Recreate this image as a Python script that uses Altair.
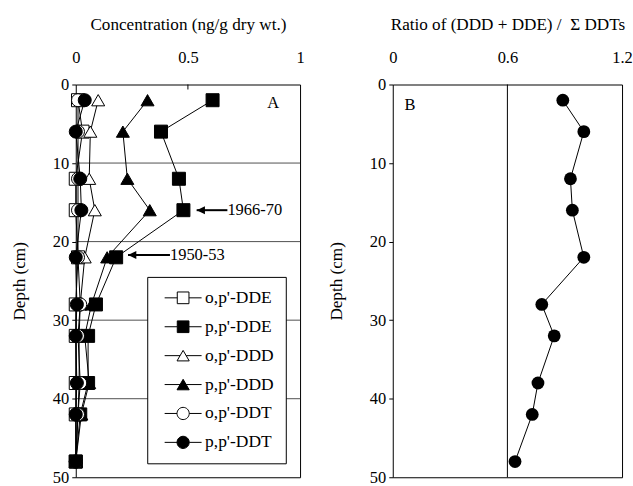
import altair as alt
import pandas as pd

# ---------------- data ----------------
depths = [2, 6, 12, 16, 22, 28, 32, 38, 42, 48]
series_names = ["o,p'-DDE", "p,p'-DDE", "o,p'-DDD", "p,p'-DDD", "o,p'-DDT", "p,p'-DDT"]
op_dde = [0.01, 0.03, 0.0, 0.0, 0.01, 0.0, 0.0, 0.0, 0.0, 0.0]
pp_dde = [0.61, 0.38, 0.46, 0.48, 0.18, 0.09, 0.055, 0.055, 0.02, 0.0]
op_ddd = [0.10, 0.065, 0.06, 0.085, 0.04, 0.02, 0.015, 0.015, 0.01, 0.0]
pp_ddd = [0.32, 0.21, 0.23, 0.33, 0.14, 0.07, 0.04, 0.06, 0.025, 0.0]
op_ddt = [0.01, 0.01, 0.01, 0.01, 0.01, 0.02, 0.01, 0.02, 0.01, 0.0]
pp_ddt = [0.04, 0.0, 0.02, 0.025, 0.0, 0.005, 0.0, 0.005, 0.0, 0.0]
ratio = [0.89, 1.0, 0.93, 0.94, 1.0, 0.78, 0.845, 0.76, 0.73, 0.64]

grid_depths = [10, 20, 30, 40]
inner_ticks = [0.5]
ref_ratio = [0.6]
annot_labels = ["1966-70", "1950-53"]
annot_depth = [16, 21.7]
annot_tip = [0.539, 0.233]
annot_tail = [0.676, 0.42]
panel_labels = ["A", "B"]

# ---------------- styles ----------------
FONT = "Liberation Serif"
point_shapes = ["square", "square", "triangle-up", "triangle-up", "circle", "circle"]
point_fills = ["white", "black", "white", "black", "white", "black"]
point_strokes = ["black"] * 6
# legend symbols: marker with a short line through it (nominal size 17 px, scale 8.5 px per unit)
sq = "M-2.18,0H-0.69M0.69,0H2.18M-0.69,-0.69H0.69V0.69H-0.69Z"
tri = "M-2.18,0H-0.36M0.36,0H2.18M0,-0.62L0.72,0.62H-0.72Z"
cir = "M-2.18,0H-0.72M0.72,0H2.18M-0.72,0A0.72,0.72 0 1,1 0.72,0A0.72,0.72 0 1,1 -0.72,0Z"
legend_paths = [sq, sq, tri, tri, cir, cir]
arrow_path = "M0,0L2,-0.96L2,0.96Z"

series_values = [op_dde, pp_dde, op_ddd, pp_ddd, op_ddt, pp_ddt]
rows = []
for name, vals in zip(series_names, series_values):
    for d, v in zip(depths, vals):
        rows.append({"series": name, "depth": d, "value": v})
conc_df = pd.DataFrame(rows)
ratio_df = pd.DataFrame({"depth": depths, "ratio": ratio})

W_L, W_R, H = 225, 230, 394
LBL, TTL, LEG = 16.5, 17.2, 17.5

y_depth = alt.Y(
    "depth:Q",
    scale=alt.Scale(domain=[0, 50], reverse=True, nice=False, zero=False),
    axis=alt.Axis(values=[0, 10, 20, 30, 40, 50], title="Depth (cm)", tickSize=4,
                  labelPadding=3, titlePadding=24, grid=False, domain=False, labelFlush=False),
)
x_left = alt.X(
    "value:Q",
    scale=alt.Scale(domain=[0, 1], nice=False, zero=False),
    axis=alt.Axis(orient="top", values=[0, 0.5, 1], format=".1~f", ticks=False, domain=False,
                  labelFlush=False, grid=False, title="Concentration (ng/g dry wt.)",
                  labelPadding=19, titlePadding=16),
)
x_right = alt.X(
    "ratio:Q",
    scale=alt.Scale(domain=[0, 1.2], nice=False, zero=False),
    axis=alt.Axis(orient="top", values=[0, 0.6, 1.2], format=".1~f", ticks=False, domain=False,
                  labelFlush=False, grid=False, title="Ratio of (DDD + DDE) /\u00a0\u00a0\u03a3 DDTs",
                  labelPadding=19, titlePadding=16),
)

# ---------------- left panel ----------------
grid = alt.Chart(pd.DataFrame({"depth": grid_depths})).mark_rule(
    color="#505050", strokeWidth=1).encode(y=y_depth)
itick = alt.Chart(pd.DataFrame({"value": inner_ticks})).mark_rule(
    color="black", strokeWidth=1).encode(x=x_left, y=alt.value(0), y2=alt.value(5))

lines = alt.Chart(conc_df).mark_line(color="black", strokeWidth=1).encode(
    x=x_left, y=y_depth, detail="series:N", order="depth:Q")

points = alt.Chart(conc_df).mark_point(
    filled=True, stroke="black", strokeWidth=1, size=170, opacity=1).encode(
    x=x_left, y=y_depth,
    shape=alt.Shape("series:N", scale=alt.Scale(domain=series_names, range=point_shapes), legend=None),
    fill=alt.Fill("series:N", scale=alt.Scale(domain=series_names, range=point_fills), legend=None),
)

leg = alt.Legend(
    title=None, orient="none", legendX=71.7, legendY=193, direction="vertical",
    fillColor="white", strokeColor="black", padding=12,
    symbolSize=289, symbolStrokeWidth=1, symbolStrokeColor="black", symbolOffset=15,
    labelFont=FONT, labelFontSize=LEG, labelColor="black", labelOffset=13, rowPadding=11,
)
legend_layer = alt.Chart(conc_df).transform_filter("datum.depth < 0").mark_point(
    filled=False, strokeWidth=1, opacity=1).encode(
    x=x_left, y=y_depth,
    shape=alt.Shape("series:N", scale=alt.Scale(domain=series_names, range=legend_paths), legend=leg),
    fill=alt.Fill("series:N", scale=alt.Scale(domain=series_names, range=point_fills), legend=leg),
    stroke=alt.Stroke("series:N", scale=alt.Scale(domain=series_names, range=point_strokes), legend=leg),
)

annot_df = pd.DataFrame({"value": annot_tip, "tail": annot_tail, "depth": annot_depth})
text_df = pd.DataFrame({"value": annot_tail, "depth": annot_depth, "label": annot_labels})
arrow_line = alt.Chart(annot_df).mark_rule(color="black", strokeWidth=2).encode(
    x=x_left, x2="tail:Q", y=y_depth)
arrow_head = alt.Chart(annot_df).mark_point(
    shape=arrow_path, filled=True, color="black", size=69, opacity=1).encode(x=x_left, y=y_depth)
arrow_text = alt.Chart(text_df).mark_text(
    font=FONT, fontSize=LBL, align="left", baseline="middle", color="black").encode(
    x=x_left, y=y_depth, text="label:N")

a_df = pd.DataFrame({"value": [0.88], "depth": [2.3], "label": [panel_labels[0]]})
a_text = alt.Chart(a_df).mark_text(
    font=FONT, fontSize=LBL, align="center", baseline="middle", color="black").encode(
    x=x_left, y=y_depth, text="label:N")

left = alt.layer(grid, itick, lines, points, legend_layer, arrow_line, arrow_head, arrow_text, a_text).resolve_scale(
    shape="independent", fill="independent", stroke="independent").properties(width=W_L, height=H)

# ---------------- right panel ----------------
ref = alt.Chart(pd.DataFrame({"ratio": ref_ratio})).mark_rule(color="black", strokeWidth=1).encode(x=x_right)
r_line = alt.Chart(ratio_df).mark_line(color="black", strokeWidth=1).encode(
    x=x_right, y=y_depth, order="depth:Q")
r_pts = alt.Chart(ratio_df).mark_point(
    shape="circle", filled=True, color="black", size=165, opacity=1).encode(x=x_right, y=y_depth)
b_df = pd.DataFrame({"ratio": [0.09], "depth": [2.6], "label": [panel_labels[1]]})
b_text = alt.Chart(b_df).mark_text(
    font=FONT, fontSize=LBL, align="center", baseline="middle", color="black").encode(
    x=x_right, y=y_depth, text="label:N")

right = alt.layer(ref, r_line, r_pts, b_text).properties(width=W_R, height=H)

chart = alt.hconcat(left, right, spacing=93, bounds="flush").configure_view(
    stroke="black", strokeWidth=1
).configure_axis(
    labelFont=FONT, titleFont=FONT, labelFontSize=LBL, titleFontSize=TTL,
    labelColor="black", titleColor="black", titleFontWeight="normal", tickColor="black",
).properties(
    padding={"left": 10, "top": 14, "right": 0, "bottom": 0},
    background="white",
)

chart.save("out.html", embed_options={"renderer": "svg", "actions": False})
